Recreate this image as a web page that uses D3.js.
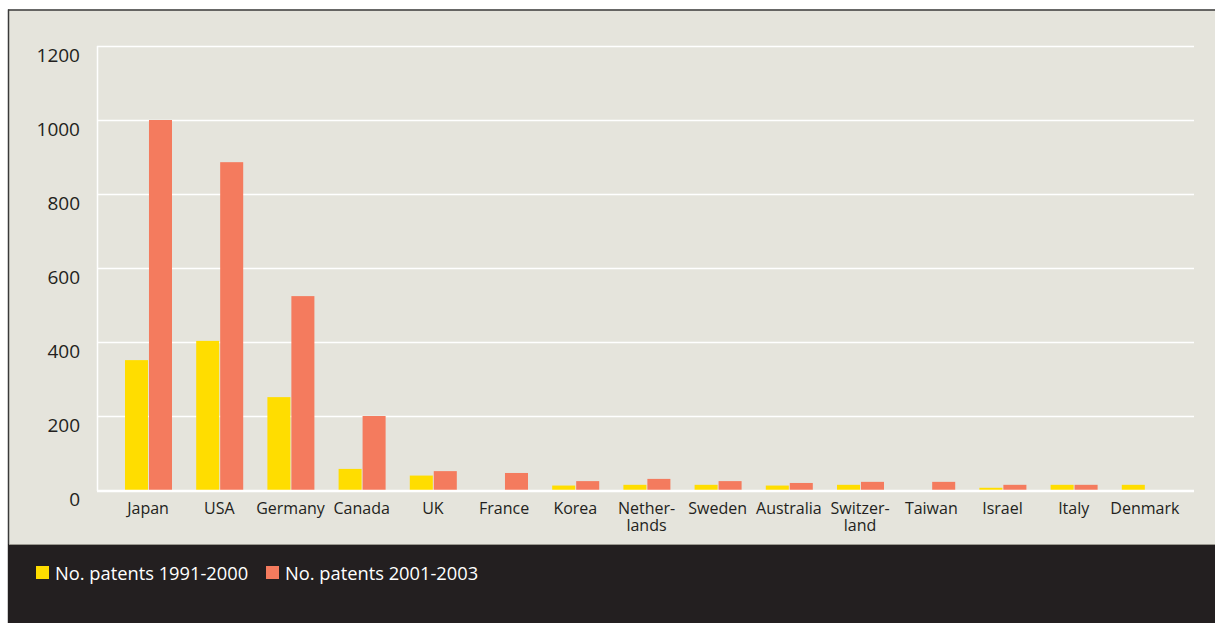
<!DOCTYPE html>
<html><head><meta charset="utf-8">
<script src="https://cdn.jsdelivr.net/npm/d3@7"></script>
<style>
html,body{margin:0;padding:0;background:#fff;}
svg{display:block;}
text{font-family:"Open Sans","Noto Sans",sans-serif;}
</style></head>
<body>
<svg id="chart" width="1215" height="623"></svg>
<script>
const categories = ["Japan","USA","Germany","Canada","UK","France","Korea","Nether-|lands","Sweden","Australia","Switzer-|land","Taiwan","Israel","Italy","Denmark"];
const patents1991_2000 = [351,403,251,57,39,0,12,14,14,12,14,0,6,14,14];
const patents2001_2003 = [1000,886,524,200,51,46,24,30,24,19,22,22,14,14,0];
const seriesNames = ["No. patents 1991-2000","No. patents 2001-2003"];
const yTicks = [0,200,400,600,800,1000,1200];
const colors = ["#ffdd00","#f47b5e"];

const svg = d3.select("#chart");
// frame
svg.append("rect").attr("x",8).attr("y",9.5).attr("width",1215).attr("height",540).attr("fill","#e5e4dc");
svg.append("line").attr("x1",8).attr("x2",1215).attr("y1",10).attr("y2",10).attr("stroke","#3a3a3a").attr("stroke-width",1.5);
svg.append("line").attr("x1",8.5).attr("x2",8.5).attr("y1",9.5).attr("y2",623).attr("stroke","#3a3a3a").attr("stroke-width",1.5);
svg.append("rect").attr("x",8).attr("y",544).attr("width",1207).attr("height",79).attr("fill","#231f20");
svg.append("line").attr("x1",9).attr("x2",1215).attr("y1",544.5).attr("y2",544.5).attr("stroke","#9a9890").attr("stroke-width",1);

const y = d3.scaleLinear().domain([0,1200]).range([490,46]);
const x = d3.scaleBand().domain(categories).range([112.5,1180.5]).paddingInner(0).paddingOuter(0);
const x1 = d3.scaleBand().domain([0,1]).range([12.5,59.5]).paddingInner(0.04);

// gridlines
const grid = svg.append("g");
grid.selectAll("line").data(yTicks.filter(d=>d>0)).join("line")
  .attr("x1",97).attr("x2",1194).attr("y1",d=>Math.round(y(d))+0.5).attr("y2",d=>Math.round(y(d))+0.5)
  .attr("stroke","#ffffff").attr("stroke-width",1.5);
svg.append("line").attr("x1",97.5).attr("x2",97.5).attr("y1",46).attr("y2",491).attr("stroke","#fff").attr("stroke-width",1.5);

// y labels
svg.append("g").selectAll("text").data(yTicks).join("text")
  .attr("x",80).attr("y",d=>y(d)+16).attr("text-anchor","end")
  .attr("font-size",19).attr("fill","#231f20").text(d=>d);

// bars
const groups = svg.append("g").selectAll("g").data(categories).join("g")
  .attr("transform",d=>`translate(${x(d)},0)`);
groups.selectAll("rect").data((d,i)=>[patents1991_2000[i],patents2001_2003[i]].map((v,k)=>({v,k})))
  .join("rect")
  .attr("x",d=>x1(d.k)).attr("width",x1.bandwidth())
  .attr("y",d=>y(d.v)).attr("height",d=>y(0)-y(d.v))
  .attr("fill",d=>colors[d.k]);

// baseline
svg.append("line").attr("x1",97).attr("x2",1194).attr("y1",491).attr("y2",491).attr("stroke","#fff").attr("stroke-width",2.5);

// x labels
const xl = svg.append("g").selectAll("text").data(categories).join("text")
  .attr("x",d=>x(d)+x.bandwidth()/2).attr("y",514).attr("text-anchor","middle")
  .attr("font-size",16).attr("fill","#231f20");
xl.each(function(d){
  const parts=d.split("|");
  const t=d3.select(this);
  parts.forEach((p,i)=>t.append("tspan").attr("x",x(d)+x.bandwidth()/2).attr("dy",i?17:0).text(p));
});

// legend
const leg = svg.append("g");
const legX=[36,266];
seriesNames.forEach((n,i)=>{
  leg.append("rect").attr("x",legX[i]).attr("y",566).attr("width",13).attr("height",13).attr("fill",colors[i]);
  leg.append("text").attr("x",legX[i]+19).attr("y",580).attr("font-size",18.3).attr("fill","#ffffff").text(n);
});
</script>
</body></html>
